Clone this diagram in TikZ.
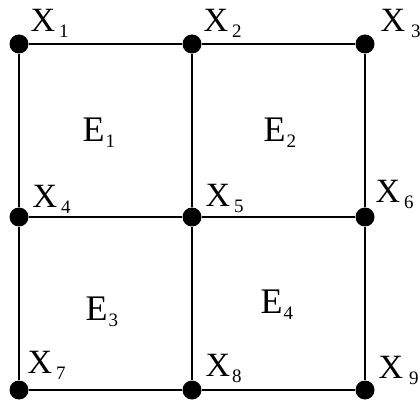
\documentclass[tikz,border=0pt]{standalone}
\usepackage{fontspec}
\setmainfont{Liberation Serif}
\usepackage{tikz}
\usetikzlibrary{calc}

\newcommand{\subtxt}[2][4pt]{\hspace{#1}\raisebox{-6pt}{\fontsize{19}{19}\selectfont #2}}

\begin{document}
\begin{tikzpicture}[x=1pt,y=-1pt,line width=1.3pt,
  dot/.style={circle,fill=black,inner sep=0pt,minimum size=19pt},
  lab/.style={anchor=base west,inner sep=0pt,font=\fontsize{34}{34}\selectfont},
  elab/.style={anchor=base west,inner sep=0pt,font=\fontsize{36}{36}\selectfont}]
\useasboundingbox (0,0) rectangle (420,403);
\node[dot] (x1) at (19,44) {};
\node[dot] (x2) at (192,44) {};
\node[dot] (x3) at (365,44) {};
\node[dot] (x4) at (19,217) {};
\node[dot] (x5) at (192,217) {};
\node[dot] (x6) at (365,217) {};
\node[dot] (x7) at (19,390) {};
\node[dot] (x8) at (192,390) {};
\node[dot] (x9) at (365,390) {};
\draw (x1) -- (x2) -- (x3);
\draw (x4) -- (x5) -- (x6);
\draw (x7) -- (x8) -- (x9);
\draw (x1) -- (x4) -- (x7);
\draw (x2) -- (x5) -- (x8);
\draw (x3) -- (x6) -- (x9);
% node labels
\node[lab] (l1) at ($(x1)+(11,-12)$) {X\subtxt{1}};
\node[lab] (l2) at ($(x2)+(11,-12)$) {X\subtxt{2}};
\node[lab] (l3) at ($(x3)+(15,-12)$) {X\subtxt[6pt]{3}};
\node[lab] (l4) at ($(x4)+(13,-9)$) {X\subtxt{4}};
\node[lab] (l5) at ($(x5)+(13,-10)$) {X\subtxt{5}};
\node[lab] (l6) at ($(x6)+(10,-14)$) {X\subtxt{6}};
\node[lab] (l7) at ($(x7)+(8,-17)$) {X\subtxt{7}};
\node[lab] (l8) at ($(x8)+(13,-14)$) {X\subtxt[2pt]{8}};
\node[lab] (l9) at ($(x9)+(13,-12)$) {X\subtxt[6pt]{9}};
% element labels
\node[elab] (e1) at (82,142) {E\subtxt[1pt]{1}};
\node[elab] (e2) at (263,142) {E\subtxt[1pt]{2}};
\node[elab] (e3) at (85,320) {E\subtxt[1pt]{3}};
\node[elab] (e4) at (260,313) {E\subtxt[1pt]{4}};
\end{tikzpicture}
\end{document}
